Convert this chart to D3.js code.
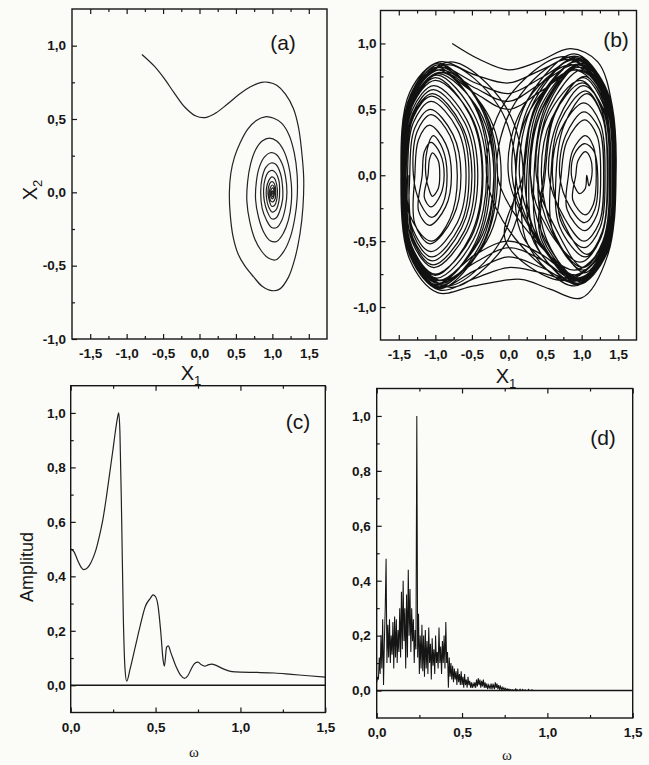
<!DOCTYPE html>
<html>
<head>
<meta charset="utf-8">
<script src="https://cdn.jsdelivr.net/npm/d3@7"></script>
<style>
  body { margin: 0; background: #fbfbf7; }
  svg { display: block; }
  text { font-family: "Liberation Sans", Arial, sans-serif; fill: #161616; font-weight: bold; }
</style>
</head>
<body>
<svg id="fig" width="649" height="765"></svg>
<script>
// ---- tick values ----
var ticksPhaseX = [-1.5, -1, -0.5, 0, 0.5, 1, 1.5];
var minorPhaseX = [-1.25, -0.75, -0.25, 0.25, 0.75, 1.25];
var ticksPhaseY = [-1, -0.5, 0, 0.5, 1];
var minorPhaseY = [-0.75, -0.25, 0.25, 0.75];
var ticksOmega = [0, 0.5, 1, 1.5];
var minorOmega = [0.25, 0.75, 1.25];
var ticksAmp = [0, 0.2, 0.4, 0.6, 0.8, 1];
var minorAmp = [0.1, 0.3, 0.5, 0.7, 0.9];

// ---- (a) damped trajectory, [x1, x2] ----
var spiralA = [
  [-0.79, 0.94], [-0.62, 0.86], [-0.49, 0.78], [-0.35, 0.68], [-0.2, 0.58], [-0.05, 0.52], [0.08, 0.51],
  [0.22, 0.54], [0.38, 0.6], [0.55, 0.67], [0.7, 0.72], [0.85, 0.75], [0.95, 0.75], [1.06, 0.73],
  [1.18, 0.67], [1.29, 0.57], [1.36, 0.44], [1.4, 0.29], [1.43, 0.1], [1.42, -0.1], [1.38, -0.28],
  [1.31, -0.45], [1.22, -0.58], [1.1, -0.66], [0.99, -0.67], [0.86, -0.64], [0.74, -0.575],
  [0.62, -0.5], [0.53, -0.42], [0.46, -0.3], [0.42, -0.14], [0.41, 0.0], [0.43, 0.13], [0.48, 0.24],
  [0.56, 0.34], [0.66, 0.43], [0.78, 0.49], [0.9, 0.515], [1.02, 0.505], [1.13, 0.47], [1.23, 0.39],
  [1.3, 0.27], [1.34, 0.12], [1.34, -0.04], [1.31, -0.17], [1.25, -0.3], [1.16, -0.4], [1.05, -0.46],
  [0.95, -0.45], [0.85, -0.4], [0.76, -0.32], [0.69, -0.2], [0.65, -0.06], [0.66, 0.07], [0.7, 0.19],
  [0.77, 0.29], [0.86, 0.35], [0.96, 0.37], [1.06, 0.35], [1.15, 0.29], [1.22, 0.19], [1.26, 0.06],
  [1.26, -0.07], [1.22, -0.19], [1.15, -0.28], [1.06, -0.335], [0.97, -0.33], [0.88, -0.27],
  [0.81, -0.17], [0.77, -0.05], [0.78, 0.07], [0.82, 0.17], [0.89, 0.24], [0.97, 0.27], [1.05, 0.26],
  [1.13, 0.2], [1.18, 0.11], [1.2, 0.0], [1.18, -0.1], [1.13, -0.19], [1.06, -0.24], [0.99, -0.24],
  [0.92, -0.19], [0.86, -0.11], [0.84, 0.0], [0.86, 0.1], [0.91, 0.17], [0.98, 0.2], [1.05, 0.19],
  [1.11, 0.13], [1.14, 0.04], [1.14, -0.05], [1.1, -0.13], [1.05, -0.175], [0.99, -0.18], [0.93, -0.13],
  [0.89, -0.06], [0.88, 0.02], [0.9, 0.09], [0.95, 0.14], [1.0, 0.15], [1.05, 0.13], [1.09, 0.08],
  [1.1, 0.01], [1.09, -0.06], [1.05, -0.12], [1.0, -0.135], [0.95, -0.1], [0.92, -0.04], [0.92, 0.03],
  [0.95, 0.08], [0.99, 0.105], [1.03, 0.095], [1.06, 0.05], [1.07, 0.0], [1.06, -0.05], [1.03, -0.09],
  [0.99, -0.095], [0.96, -0.06], [0.94, -0.01], [0.95, 0.04], [0.98, 0.07], [1.01, 0.07], [1.04, 0.04],
  [1.045, 0.0], [1.04, -0.04], [1.01, -0.065], [0.98, -0.06], [0.96, -0.03], [0.96, 0.01], [0.98, 0.04],
  [1.0, 0.05], [1.025, 0.035], [1.03, 0.0], [1.02, -0.03], [1.0, -0.045], [0.98, -0.03], [0.975, 0.0],
  [0.99, 0.025], [1.01, 0.03], [1.02, 0.01], [1.015, -0.02], [1.0, -0.03], [0.99, -0.01], [1.0, 0.01],
  [1.01, 0.0], [1.005, -0.01], [1.0, -0.005]
];

// ---- (b) chaotic trajectory, consecutive swings of [x1, x2] ----
var orbitB = [
  [[-0.77, 1.0], [-0.4, 0.88], [0.0, 0.8], [0.4, 0.86], [0.85, 0.96], [1.22, 0.86], [1.42, 0.52], [1.47, 0.0], [1.36, -0.6], [1.0, -0.93], [0.55, -0.86], [0.17, -0.79], [-0.47, -0.84], [-0.97, -0.89], [-1.35, -0.64]],
  [[-1.47, 0], [-1.34, 0.61], [-0.96, 0.85], [-0.39, 0.53], [-0.2, 0], [-0.39, -0.53], [-0.96, -0.85], [-1.34, -0.61]],
  [[-1.45, 0], [-1.33, 0.58], [-0.97, 0.8], [-0.43, 0.5], [-0.25, 0], [-0.43, -0.51], [-0.97, -0.82], [-1.33, -0.59]],
  [[-1.47, 0], [-1.34, 0.59], [-0.94, 0.82], [-0.35, 0.51], [-0.15, 0], [-0.35, -0.53], [-0.94, -0.86], [-1.34, -0.62]],
  [[-1.46, 0], [-1.33, 0.6], [-0.95, 0.82], [-0.45, 0.7], [0.0, 0.62], [0.45, 0.74], [0.95, 0.88], [1.34, 0.63], [1.46, 0], [1.34, -0.6], [0.95, -0.82], [0.45, -0.52]],
  [[0.15, 0], [0.35, 0.56], [0.94, 0.9], [1.33, 0.65], [1.46, 0], [1.33, -0.59], [0.94, -0.82], [0.35, -0.51]],
  [[0.25, 0], [0.43, 0.55], [0.97, 0.88], [1.33, 0.63], [1.45, 0], [1.33, -0.58], [0.97, -0.8], [0.43, -0.5]],
  [[0.35, 0], [0.51, 0.53], [1.0, 0.85], [1.33, 0.61], [1.44, 0], [1.33, -0.58], [1.0, -0.8], [0.51, -0.5]],
  [[0.3, 0], [0.47, 0.51], [0.97, 0.82], [1.31, 0.59], [1.42, 0], [1.31, -0.56], [0.97, -0.78], [0.47, -0.48]],
  [[0.5, 0], [0.64, 0.47], [1.04, 0.75], [1.31, 0.54], [1.4, 0], [1.31, -0.53], [1.04, -0.74], [0.64, -0.46]],
  [[0.45, 0], [0.59, 0.43], [1.01, 0.7], [1.29, 0.5], [1.38, 0], [1.29, -0.5], [1.01, -0.7], [0.59, -0.43]],
  [[0.4, 0], [0.54, 0.45], [0.98, 0.72], [1.26, 0.52], [1.36, 0], [1.26, -0.48], [0.98, -0.66], [0.54, -0.41]],
  [[0.3, 0], [0.47, 0.52], [0.97, 0.84], [1.33, 0.6], [1.45, 0], [1.33, -0.58], [0.95, -0.82], [0.45, -0.7], [0.0, -0.62], [-0.45, -0.72], [-0.95, -0.85], [-1.33, -0.6]],
  [[-1.44, 0], [-1.31, 0.56], [-0.9, 0.78], [-0.3, 0.48], [-0.1, 0], [-0.3, -0.5], [-0.9, -0.8], [-1.31, -0.58]],
  [[-1.43, 0], [-1.32, 0.52], [-1.0, 0.72], [-0.51, 0.45], [-0.35, 0], [-0.51, -0.47], [-1.0, -0.75], [-1.32, -0.54]],
  [[-1.42, 0], [-1.32, 0.49], [-1.02, 0.68], [-0.57, 0.42], [-0.42, 0], [-0.57, -0.43], [-1.02, -0.7], [-1.32, -0.5]],
  [[-1.38, 0], [-1.3, 0.4], [-1.06, 0.56], [-0.7, 0.35], [-0.58, 0], [-0.7, -0.36], [-1.06, -0.58], [-1.3, -0.42]],
  [[-1.4, 0], [-1.31, 0.45], [-1.04, 0.62], [-0.64, 0.38], [-0.5, 0], [-0.64, -0.4], [-1.04, -0.65], [-1.31, -0.47]],
  [[-1.35, 0], [-1.28, 0.36], [-1.07, 0.5], [-0.76, 0.31], [-0.65, 0], [-0.76, -0.32], [-1.07, -0.52], [-1.28, -0.37]],
  [[-1.28, 0], [-1.23, 0.27], [-1.08, 0.38], [-0.86, 0.24], [-0.78, 0], [-0.86, -0.24], [-1.08, -0.38], [-1.23, -0.27]],
  [[-1.18, 0], [-1.15, 0.18], [-1.06, 0.25], [-0.93, 0.16], [-0.88, 0], [-0.93, -0.15], [-1.06, -0.24], [-1.15, -0.17]],
  [[-1.1, 0], [-1.08, 0.12], [-1.04, 0.17], [-0.96, 0.11], [-0.94, 0], [-0.96, -0.1], [-1.04, -0.16], [-1.08, -0.12]],
  [[-1.13, 0], [-1.11, 0.2], [-1.03, 0.3], [-0.9, 0.2], [-0.84, 0], [-0.9, -0.22], [-1.05, -0.32], [-1.2, -0.22]],
  [[-1.3, 0], [-1.25, 0.33], [-1.06, 0.46], [-0.8, 0.3], [-0.7, 0], [-0.8, -0.33], [-1.05, -0.5], [-1.3, -0.36]],
  [[-1.46, 0], [-1.3, 0.6], [-0.84, 0.84], [-0.13, 0.52], [0.1, 0], [-0.13, -0.52], [-0.84, -0.84], [-1.3, -0.6]],
  [[-1.44, 0], [-1.31, 0.57], [-0.95, 0.78], [-0.45, 0.62], [0.0, 0.5], [0.45, 0.64], [0.95, 0.8], [1.32, 0.6], [1.44, 0], [1.32, -0.57], [0.95, -0.78], [0.4, -0.5]],
  [[0.05, 0], [0.26, 0.57], [0.9, 0.92], [1.33, 0.66], [1.47, 0], [1.33, -0.6], [0.9, -0.84], [0.26, -0.52]],
  [[0.2, 0], [0.38, 0.53], [0.92, 0.86], [1.28, 0.62], [1.4, 0], [1.28, -0.55], [0.92, -0.76], [0.38, -0.47]],
  [[0.1, 0], [0.3, 0.5], [0.9, 0.8], [1.3, 0.58], [1.43, 0], [1.3, -0.52], [0.9, -0.72], [0.3, -0.45]],
  [[-0.15, 0], [0.09, 0.55], [0.81, 0.88], [1.29, 0.63], [1.45, 0], [1.29, -0.56], [0.81, -0.78], [0.09, -0.48]],
  [[-0.3, 0], [-0.04, 0.56], [0.76, 0.9], [1.28, 0.65], [1.46, 0], [1.28, -0.58], [0.76, -0.8], [-0.04, -0.5]],
  [[0.2, 0], [0.38, 0.54], [0.95, 0.87], [1.34, 0.62], [1.46, 0], [1.34, -0.6], [0.95, -0.8], [0.45, -0.64], [0.0, -0.55], [-0.45, -0.66], [-0.95, -0.82], [-1.33, -0.58]],
  [[-1.45, 0], [-1.29, 0.62], [-0.79, 0.86], [-0.05, 0.53], [0.2, 0], [-0.05, -0.53], [-0.79, -0.85], [-1.29, -0.61]],
  [[-1.46, 0], [-1.34, 0.6], [-0.98, 0.82], [-0.46, 0.52], [-0.28, 0], [-0.46, -0.52], [-0.98, -0.83], [-1.34, -0.6]],
  [[-1.47, 0], [-1.35, 0.63], [-0.95, 0.86], [-0.45, 0.76], [0.0, 0.7], [0.45, 0.8], [0.95, 0.9], [1.35, 0.64], [1.47, 0], [1.34, -0.6], [0.95, -0.83], [0.4, -0.55]],
  [[0.28, 0], [0.45, 0.53], [0.96, 0.84], [1.32, 0.6], [1.43, 0], [1.32, -0.57], [0.96, -0.79], [0.45, -0.49]],
  [[0.48, 0], [0.62, 0.46], [1.02, 0.74], [1.3, 0.53], [1.39, 0], [1.3, -0.52], [1.02, -0.72], [0.62, -0.45]],
  [[0.58, 0], [0.7, 0.4], [1.05, 0.64], [1.27, 0.47], [1.36, 0], [1.27, -0.45], [1.05, -0.62], [0.7, -0.39]],
  [[0.65, 0], [0.76, 0.38], [1.07, 0.62], [1.28, 0.45], [1.35, 0], [1.28, -0.43], [1.07, -0.6], [0.76, -0.37]],
  [[0.6, 0], [0.71, 0.34], [1.03, 0.55], [1.25, 0.4], [1.32, 0], [1.25, -0.4], [1.03, -0.55], [0.71, -0.34]],
  [[0.72, 0], [0.8, 0.26], [1.04, 0.42], [1.21, 0.3], [1.26, 0], [1.21, -0.3], [1.04, -0.42], [0.8, -0.26]],
  [[0.82, 0], [0.88, 0.19], [1.05, 0.3], [1.16, 0.22], [1.2, 0], [1.16, -0.22], [1.05, -0.3], [0.88, -0.19]],
  [[0.92, 0], [0.95, 0.11], [1.05, 0.18], [1.12, 0.13], [1.14, 0], [1.1, -0.08], [1.07, 0.0], [1.05, -0.1], [0.97, -0.14], [0.9, -0.08]],
  [[0.86, 0], [0.9, 0.16], [1.04, 0.24], [1.17, 0.18], [1.22, 0], [1.18, -0.26], [1.04, -0.36], [0.84, -0.24]],
  [[0.7, 0], [0.78, 0.3], [1.03, 0.48], [1.24, 0.35], [1.3, 0], [1.24, -0.36], [1.03, -0.5], [0.76, -0.32]],
  [[0.55, 0], [0.68, 0.42], [1.02, 0.68], [1.3, 0.5], [1.39, 0], [1.3, -0.5], [1.02, -0.7], [0.66, -0.42]],
  [[0.38, 0], [0.53, 0.52], [0.99, 0.84], [1.34, 0.62], [1.45, 0], [1.34, -0.58], [0.99, -0.81], [0.53, -0.5]],
  [[0.4, 0], [0.55, 0.5], [1.0, 0.8], [1.32, 0.58], [1.43, 0], [1.32, -0.57], [0.95, -0.8], [0.45, -0.74], [0.0, -0.7], [-0.45, -0.78], [-0.95, -0.87], [-1.34, -0.62]],
  [[-1.46, 0], [-1.33, 0.6], [-0.95, 0.84], [-0.37, 0.53], [-0.18, 0], [-0.37, -0.54], [-0.95, -0.84], [-1.33, -0.6]],
  [[-1.45, 0], [-1.33, 0.55], [-0.98, 0.76], [-0.48, 0.47], [-0.3, 0], [-0.48, -0.49], [-0.98, -0.78], [-1.33, -0.57]],
  [[-1.41, 0], [-1.31, 0.47], [-1.03, 0.65], [-0.6, 0.4], [-0.46, 0], [-0.6, -0.42], [-1.03, -0.68], [-1.31, -0.49]],
  [[-1.44, 0], [-1.31, 0.54], [-0.97, 0.77], [-0.4, 0.49], [-0.2, 0], [-0.4, -0.5], [-0.97, -0.8], [-1.32, -0.58]],
  [[-1.45, 0], [-1.32, 0.58], [-0.95, 0.8], [-0.45, 0.66], [0.0, 0.56], [0.45, 0.7], [0.95, 0.84], [1.33, 0.6], [1.45, 0], [1.33, -0.58], [0.95, -0.8], [0.42, -0.5]],
  [[0.22, 0], [0.4, 0.54], [0.95, 0.87], [1.31, 0.63], [1.44, 0], [1.31, -0.57], [0.95, -0.79], [0.4, -0.49]],
  [[0.0, 0], [0.2, 0.52], [0.86, 0.84], [1.3, 0.6], [1.44, 0], [1.3, -0.56], [0.86, -0.76], [0.2, -0.47]],
  [[0.1, 0], [0.3, 0.55], [0.92, 0.89], [1.34, 0.63], [1.46, 0], [1.33, -0.58], [0.95, -0.78], [0.45, -0.6], [0.0, -0.5], [-0.45, -0.6], [-0.95, -0.8], [-1.32, -0.56]],
  [[-1.44, 0], [-1.32, 0.52], [-1.0, 0.74], [-0.53, 0.46], [-0.36, 0], [-0.53, -0.47], [-1.0, -0.76], [-1.32, -0.55]],
  [[-1.4, 0], [-1.3, 0.44], [-1.05, 0.6], [-0.66, 0.37], [-0.54, 0], [-0.66, -0.38], [-1.05, -0.62], [-1.3, -0.45]],
  [[-1.36, 0]]
];

// ---- (c) spectrum, regular motion ----
var omegaC = [0, 0.02, 0.04, 0.06, 0.075, 0.09, 0.11, 0.13, 0.15, 0.17, 0.19, 0.21, 0.23, 0.25, 0.265,
  0.275, 0.283, 0.29, 0.3, 0.31, 0.32, 0.33, 0.35, 0.38, 0.41, 0.44, 0.47, 0.485, 0.5, 0.515, 0.53,
  0.545, 0.552, 0.565, 0.575, 0.59, 0.62, 0.65, 0.67, 0.69, 0.71, 0.73, 0.75, 0.77, 0.79, 0.81, 0.83,
  0.86, 0.9, 0.95, 1.0, 1.1, 1.2, 1.3, 1.4, 1.5];
var ampC = [0.5, 0.49, 0.46, 0.435, 0.425, 0.427, 0.44, 0.465, 0.5, 0.55, 0.61, 0.69, 0.78, 0.87, 0.94,
  0.98, 1.0, 0.93, 0.62, 0.25, 0.06, 0.015, 0.06, 0.14, 0.22, 0.29, 0.32, 0.332, 0.325, 0.29, 0.2,
  0.09, 0.07, 0.14, 0.145, 0.12, 0.07, 0.035, 0.025, 0.035, 0.06, 0.08, 0.085, 0.075, 0.07, 0.075, 0.078,
  0.072, 0.06, 0.05, 0.048, 0.047, 0.045, 0.04, 0.035, 0.03];

// ---- (d) spectrum, chaotic motion (sampled every 0.005 in omega) ----
var omegaStepD = 0.005;
var ampD = [
  0.03, 0.05, 0.04, 0.12, 0.06, 0.2, 0.08, 0.26, 0.02, 0.18,
  0.3, 0.48, 0.1, 0.24, 0.12, 0.26, 0.1, 0.2, 0.13, 0.25,
  0.08, 0.27, 0.12, 0.26, 0.1, 0.22, 0.14, 0.3, 0.12, 0.36,
  0.15, 0.4, 0.18, 0.3, 0.08, 0.35, 0.12, 0.44, 0.2, 0.37,
  0.14, 0.3, 0.18, 0.26, 0.1, 0.22, 0.15, 1.0, 0.12, 0.28,
  0.06, 0.2, 0.08, 0.24, 0.07, 0.2, 0.05, 0.22, 0.08, 0.18,
  0.06, 0.23, 0.1, 0.17, 0.04, 0.19, 0.09, 0.15, 0.06, 0.2,
  0.1, 0.14, 0.08, 0.23, 0.1, 0.16, 0.06, 0.18, 0.1, 0.2,
  0.08, 0.25, 0.1, 0.14, 0.01, 0.12, 0.05, 0.1, 0.04, 0.09,
  0.03, 0.08, 0.04, 0.07, 0.02, 0.08, 0.03, 0.06, 0.02, 0.07,
  0.02, 0.05, 0.01, 0.06, 0.02, 0.04, 0.01, 0.05, 0.02, 0.035,
  0.01, 0.03, 0.01, 0.025, 0.015, 0.03, 0.01, 0.04, 0.015, 0.045,
  0.02, 0.04, 0.01, 0.035, 0.015, 0.04, 0.01, 0.03, 0.01, 0.025,
  0.005, 0.02, 0.01, 0.02, 0.005, 0.025, 0.01, 0.02, 0.005, 0.03,
  0.01, 0.025, 0.005, 0.02, 0.005, 0.015, 0.003, 0.012, 0.003, 0.01,
  0.002, 0.008, 0.002, 0.006, 0.001, 0.005, 0.001, 0.004, 0, 0.003,
  0, 0.002, 0, 0.006, 0, 0.003, 0, 0, 0.005, 0,
  0, 0.004, 0, 0, 0.003, 0, 0, 0, 0.004, 0,
  0, 0, 0.003, 0, 0, 0
];

var fmt = function(d) { return d.toFixed(1).replace(".", ","); };
var ink = "#161616";
var svg = d3.select("#fig");

function addAxis(g, axis, tr, size) {
  var a = g.append("g").attr("transform", tr).call(axis);
  a.select(".domain").remove();
  a.attr("font-family", null).attr("font-size", size || 13.5);
  a.selectAll("line").attr("stroke", ink).attr("stroke-width", 1.2);
  return a;
}

function makePanel(p) {
  var x = d3.scaleLinear().domain(p.xd).range([p.x0, p.x1]);
  var y = d3.scaleLinear().domain(p.yd).range([p.y1, p.y0]);
  var g = svg.append("g");
  g.append("clipPath").attr("id", p.id)
    .append("rect").attr("x", p.x0).attr("y", p.y0)
    .attr("width", p.x1 - p.x0).attr("height", p.y1 - p.y0);
  var plot = g.append("g").attr("clip-path", "url(#" + p.id + ")");

  addAxis(g, d3.axisBottom(x).tickValues(p.xt).tickSizeInner(-5).tickSizeOuter(0)
    .tickPadding(p.xpad).tickFormat(fmt), "translate(0," + p.y1 + ")");
  addAxis(g, d3.axisBottom(x).tickValues(p.xm).tickSizeInner(-3).tickSizeOuter(0)
    .tickFormat(""), "translate(0," + p.y1 + ")");
  addAxis(g, d3.axisTop(x).tickValues(p.xt).tickSizeInner(-5).tickSizeOuter(0)
    .tickFormat(""), "translate(0," + p.y0 + ")");
  addAxis(g, d3.axisTop(x).tickValues(p.xm).tickSizeInner(-3).tickSizeOuter(0)
    .tickFormat(""), "translate(0," + p.y0 + ")");
  addAxis(g, d3.axisLeft(y).tickValues(p.yt).tickSizeInner(-5).tickSizeOuter(0)
    .tickPadding(p.ypad).tickFormat(fmt), "translate(" + p.x0 + ",0)");
  addAxis(g, d3.axisLeft(y).tickValues(p.ym).tickSizeInner(-3).tickSizeOuter(0)
    .tickFormat(""), "translate(" + p.x0 + ",0)");

  g.append("rect").attr("x", p.x0).attr("y", p.y0)
    .attr("width", p.x1 - p.x0).attr("height", p.y1 - p.y0)
    .attr("fill", "none").attr("stroke", ink).attr("stroke-width", 1.4);

  g.append("text").attr("x", p.lx).attr("y", p.ly)
    .attr("text-anchor", "middle").attr("font-size", 21).style("font-weight", "normal").text(p.label);

  return { g: g, plot: plot, x: x, y: y };
}

// (a)
var pa = makePanel({ id: "ca", x0: 72, x1: 327, y0: 9, y1: 339,
  xd: [-1.75, 1.75], yd: [-1, 1.25], xt: ticksPhaseX, xm: minorPhaseX,
  yt: ticksPhaseY, ym: minorPhaseY, xpad: 9, ypad: 6, label: "(a)", lx: 283, ly: 50 });
pa.plot.append("path")
  .attr("d", d3.line().x(function(d) { return pa.x(d[0]); }).y(function(d) { return pa.y(d[1]); })
    .curve(d3.curveCatmullRom.alpha(0.5))(spiralA))
  .attr("fill", "none").attr("stroke", "#222").attr("stroke-width", 1.2);

// (b)
var pb = makePanel({ id: "cb", x0: 380.5, x1: 636.5, y0: 10.5, y1: 340,
  xd: [-1.75, 1.75], yd: [-1.25, 1.25], xt: ticksPhaseX, xm: minorPhaseX,
  yt: ticksPhaseY, ym: minorPhaseY, xpad: 9, ypad: 4, label: "(b)", lx: 616, ly: 47 });
pb.plot.append("path")
  .attr("d", d3.line().x(function(d) { return pb.x(d[0]); }).y(function(d) { return pb.y(d[1]); })
    .curve(d3.curveCatmullRom.alpha(0.5))(orbitB.flat()))
  .attr("fill", "none").attr("stroke", "#111").attr("stroke-width", 1.25);

// (c)
var pc = makePanel({ id: "cc", x0: 70.7, x1: 325.3, y0: 385.7, y1: 712.5,
  xd: [0, 1.5], yd: [-0.1, 1.1], xt: ticksOmega, xm: minorOmega,
  yt: ticksAmp, ym: minorAmp, xpad: 10, ypad: 5, label: "(c)", lx: 298, ly: 429 });
pc.plot.append("line").attr("x1", pc.x(0)).attr("x2", pc.x(1.5))
  .attr("y1", pc.y(0)).attr("y2", pc.y(0)).attr("stroke", ink).attr("stroke-width", 1.4);
pc.plot.append("path")
  .datum(omegaC.map(function(w, i) { return [w, ampC[i]]; }))
  .attr("d", d3.line().x(function(d) { return pc.x(d[0]); }).y(function(d) { return pc.y(d[1]); })
    .curve(d3.curveMonotoneX))
  .attr("fill", "none").attr("stroke", "#222").attr("stroke-width", 1.2);

// (d)
var pd = makePanel({ id: "cd", x0: 376.7, x1: 632.7, y0: 388.5, y1: 718,
  xd: [0, 1.5], yd: [-0.1, 1.1], xt: ticksOmega, xm: minorOmega,
  yt: ticksAmp, ym: minorAmp, xpad: 9, ypad: 6, label: "(d)", lx: 603, ly: 445 });
pd.plot.append("line").attr("x1", pd.x(0)).attr("x2", pd.x(1.5))
  .attr("y1", pd.y(0)).attr("y2", pd.y(0)).attr("stroke", ink).attr("stroke-width", 1.4);
pd.plot.append("path")
  .datum(ampD.map(function(a, i) { return [i * omegaStepD, a]; }))
  .attr("d", d3.line().x(function(d) { return pd.x(d[0]); }).y(function(d) { return pd.y(d[1]); }))
  .attr("fill", "none").attr("stroke", "#151515").attr("stroke-width", 1.05);

// axis titles
function xTitle(cx, cy, sub) {
  var t = svg.append("text").attr("x", cx).attr("y", cy).attr("text-anchor", "middle").attr("font-size", 20)
    .style("font-weight", "normal");
  t.append("tspan").text("X");
  t.append("tspan").attr("font-size", 13).attr("dy", 5).text(sub);
}
xTitle(191, 380, "1");
xTitle(506, 383, "1");

var yt = svg.append("text").attr("transform", "translate(37,190) rotate(-90)")
  .attr("text-anchor", "middle").attr("font-size", 20).style("font-weight", "normal");
yt.append("tspan").text("X");
yt.append("tspan").attr("font-size", 13).attr("dy", 5).text("2");

svg.append("text").attr("transform", "translate(33,567) rotate(-90)")
  .attr("text-anchor", "middle").attr("font-size", 18).style("font-weight", "normal").text("Amplitud");

svg.append("text").attr("x", 194).attr("y", 757).attr("text-anchor", "middle")
  .attr("font-size", 15).style("font-family", "'Liberation Serif', serif").style("font-weight", "normal").text("ω");
svg.append("text").attr("x", 507).attr("y", 760).attr("text-anchor", "middle")
  .attr("font-size", 15).style("font-family", "'Liberation Serif', serif").style("font-weight", "normal").text("ω");
</script>
</body>
</html>
